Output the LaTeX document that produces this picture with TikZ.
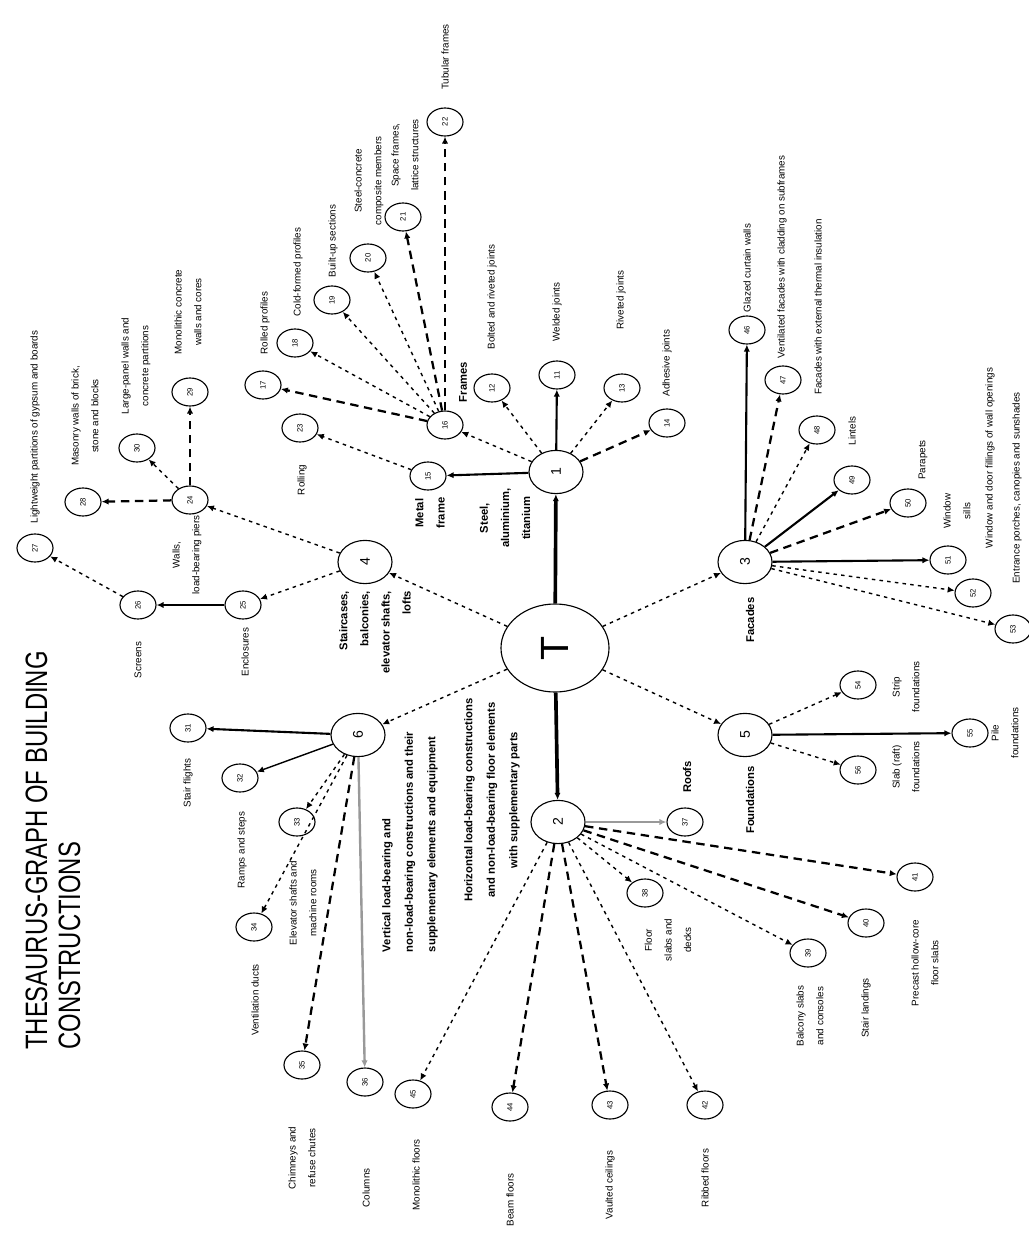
\documentclass[tikz,border=0pt]{standalone}
\usepackage{fontspec}
\setmainfont{Liberation Sans}
\usetikzlibrary{shapes.geometric,arrows.meta}
\newcommand\rotnum[1]{\rotatebox{90}{#1}}
\begin{document}
\begin{tikzpicture}[x=0.025cm,y=-0.025cm,
  circ/.style={draw,line width=0.8pt,ellipse,inner sep=0pt,minimum width=0.9cm,minimum height=0.7cm,font=\fontsize{5.5}{6}\selectfont},
  hubc/.style={circ,minimum width=1.35cm,minimum height=1.08cm,font=\fontsize{10}{10}\selectfont},
  lab/.style={rotate=90,inner sep=0.5pt,align=center,font=\fontsize{7}{14}\selectfont},
  blab/.style={rotate=90,inner sep=0.5pt,align=center,font=\bfseries\fontsize{8}{15}\selectfont},
  tip/.style={-{Latex[length=5pt,width=4.5pt]}},
  heavy/.style={tip,line width=2.6pt},
  solidc/.style={tip,line width=1.5pt},
  greyc/.style={tip,line width=1.7pt,black!40},
  dashc/.style={tip,line width=1.6pt,dash pattern=on 6pt off 4pt},
  dotc/.style={tip,line width=1pt,dash pattern=on 2.5pt off 3pt},
]
\fill[white] (0,0) rectangle (1029,1240);
\path[use as bounding box] (0,0) rectangle (1029,1240);

% title
\node[rotate=90,anchor=base west,inner sep=0pt,font=\fontsize{22}{22}\selectfont] (title1) at (47,1050) {\scalebox{0.77}[1]{THESAURUS-GRAPH OF BUILDING}};
\node[rotate=90,anchor=base west,inner sep=0pt,font=\fontsize{22}{22}\selectfont] (title2) at (80,1050) {\scalebox{0.77}[1]{CONSTRUCTIONS}};

% central node and hubs
\node[circ,minimum width=2.7cm,minimum height=2.2cm,font=\fontsize{28}{28}\selectfont] (T) at (555,648) {\rotnum{T}};
\node[hubc] (H1) at (556,472) {\rotnum{1}};
\node[hubc] (H2) at (558,822) {\rotnum{2}};
\node[hubc] (H3) at (745,562) {\rotnum{3}};
\node[hubc] (H5) at (365,562) {\rotnum{4}};
\node[hubc] (H4) at (745,735) {\rotnum{5}};
\node[hubc] (H6) at (358,735) {\rotnum{6}};

% upper group
\node[circ] (W)  at (557,375) {\rotnum{11}};
\node[circ] (Bq) at (492,388) {\rotnum{12}};
\node[circ] (R)  at (622,388) {\rotnum{13}};
\node[circ] (G)  at (667,423) {\rotnum{14}};
\node[circ] (NB) at (428,476) {\rotnum{15}};
\node[circ] (NA) at (445,425) {\rotnum{16}};
\node[circ] (a1) at (263,385) {\rotnum{17}};
\node[circ] (a2) at (295,343) {\rotnum{18}};
\node[circ] (a3) at (332,300) {\rotnum{19}};
\node[circ] (a4) at (368,258) {\rotnum{20}};
\node[circ] (a5) at (403,217) {\rotnum{21}};
\node[circ] (a6) at (445,122) {\rotnum{22}};
\node[circ] (Ro) at (300,428) {\rotnum{23}};

% left group
\node[circ] (L)  at (190,500) {\rotnum{24}};
\node[circ] (F)  at (243,605) {\rotnum{25}};
\node[circ] (P)  at (138,605) {\rotnum{26}};
\node[circ] (Z)  at (35,548)  {\rotnum{27}};
\node[circ] (L1) at (83,502)  {\rotnum{28}};
\node[circ] (M)  at (190,392) {\rotnum{29}};
\node[circ] (K)  at (137,448) {\rotnum{30}};

% lower-left group
\node[circ] (S0) at (188,728)  {\rotnum{31}};
\node[circ] (S1) at (240,778)  {\rotnum{32}};
\node[circ] (S2) at (297,822)  {\rotnum{33}};
\node[circ] (S3) at (254,927)  {\rotnum{34}};
\node[circ] (S4) at (302,1065) {\rotnum{35}};
\node[circ] (S5) at (365,1082) {\rotnum{36}};

% lower group
\node[circ] (Rf) at (685,822)  {\rotnum{37}};
\node[circ] (r1) at (645,893)  {\rotnum{38}};
\node[circ] (r2) at (808,953)  {\rotnum{39}};
\node[circ] (r3) at (866,923)  {\rotnum{40}};
\node[circ] (r4) at (915,877)  {\rotnum{41}};
\node[circ] (b1) at (705,1105) {\rotnum{42}};
\node[circ] (b2) at (610,1105) {\rotnum{43}};
\node[circ] (b3) at (510,1107) {\rotnum{44}};
\node[circ] (b4) at (413,1094) {\rotnum{45}};

% right group
\node[circ] (c1) at (747,330)  {\rotnum{46}};
\node[circ] (c2) at (783,380)  {\rotnum{47}};
\node[circ] (c3) at (817,430)  {\rotnum{48}};
\node[circ] (c4) at (852,480)  {\rotnum{49}};
\node[circ] (c5) at (908,503)  {\rotnum{50}};
\node[circ] (c6) at (948,560)  {\rotnum{51}};
\node[circ] (c7) at (973,593)  {\rotnum{52}};
\node[circ] (c8) at (1013,629) {\rotnum{53}};
\node[circ] (f1) at (858,685)  {\rotnum{54}};
\node[circ] (f2) at (970,733)  {\rotnum{55}};
\node[circ] (f3) at (858,770)  {\rotnum{56}};

% connectors from the centre
\draw[heavy] (T) -- (H1);
\draw[heavy] (T) -- (H2);
\draw[dotc] (T) -- (H3);
\draw[dotc] (T) -- (H4);
\draw[dotc] (T) -- (H5);
\draw[dotc] (T) -- (H6);

% upper group connectors
\draw[solidc] (H1) -- (W);
\draw[dotc] (H1) -- (Bq);
\draw[dotc] (H1) -- (R);
\draw[dashc] (H1) -- (G);
\draw[solidc] (H1) -- (NB);
\draw[dotc] (H1) -- (NA);
\draw[dashc] (NA) -- (a1);
\draw[dotc] (NA) -- (a2);
\draw[dotc] (NA) -- (a3);
\draw[dotc] (NA) -- (a4);
\draw[dashc] (NA) -- (a5);
\draw[dashc] (NA) -- (a6);
\draw[dotc] (NB) -- (Ro);

% left group connectors
\draw[dotc] (H5) -- (L);
\draw[dotc] (H5) -- (F);
\draw[solidc] (F) -- (P);
\draw[dotc] (P) -- (Z);
\draw[dashc] (L) -- (L1);
\draw[dashc] (L) -- (M);
\draw[dotc] (L) -- (K);

% lower-left group connectors
\draw[solidc] (H6) -- (S0);
\draw[solidc,line width=1pt] (H6) -- (S1);
\draw[dotc] (H6) -- (S2);
\draw[dotc] (H6) -- (S3);
\draw[dashc] (H6) -- (S4);
\draw[greyc] (H6) -- (S5);

% lower group connectors
\draw[greyc] (H2) -- (Rf);
\draw[dotc] (H2) -- (r1);
\draw[dotc] (H2) -- (r2);
\draw[dashc] (H2) -- (r3);
\draw[dashc] (H2) -- (r4);
\draw[dotc] (H2) -- (b1);
\draw[dashc] (H2) -- (b2);
\draw[dashc] (H2) -- (b3);
\draw[dotc] (H2) -- (b4);

% right group connectors
\draw[solidc] (H3) -- (c1);
\draw[dashc] (H3) -- (c2);
\draw[dotc] (H3) -- (c3);
\draw[solidc] (H3) -- (c4);
\draw[dashc] (H3) -- (c5);
\draw[solidc] (H3) -- (c6);
\draw[dotc] (H3) -- (c7);
\draw[dotc] (H3) -- (c8);
\draw[dotc] (H4) -- (f1);
\draw[solidc] (H4) -- (f2);
\draw[dotc] (H4) -- (f3);

% bold labels
\node[blab] (tH1) at (505,518) {Steel,\\aluminium,\\titanium};
\node[blab] (tNB) at (430,513) {Metal\\frame};
\node[blab] (tNA) at (463,382) {Frames};
\node[blab,anchor=east,align=right] (tH5) at (375,590) {Staircases,\\balconies,\\elevator shafts,\\lofts};
\node[blab,anchor=west,align=left,font=\bfseries\fontsize{8}{16}\selectfont] (tH6) at (410,953) {Vertical load-bearing and\\non-load-bearing constructions and their\\supplementary elements and equipment};
\node[blab,font=\bfseries\fontsize{8}{16}\selectfont] (tH2) at (492,800) {Horizontal load-bearing constructions\\and non-load-bearing floor elements\\with supplementary parts};
\node[blab] (tH3) at (750,620) {Facades};
\node[blab] (tH4) at (750,800) {Foundations};
\node[blab] (tRf) at (687,777) {Roofs};

% labels, upper group
\node[lab] (ta1) at (265,323) {Rolled profiles};
\node[lab] (ta2) at (298,272) {Cold-formed profiles};
\node[lab] (ta3) at (333,241) {Built-up sections};
\node[lab] (ta4) at (369,181) {Steel-concrete\\composite members};
\node[lab] (ta5) at (405,155) {Space frames,\\lattice structures};
\node[lab] (ta6) at (445,57) {Tubular frames};
\node[lab] (tRo) at (302,480) {Rolling};
\node[lab] (tW) at (557,312) {Welded joints};
\node[lab] (tBq) at (492,297) {Bolted and riveted joints};
\node[lab] (tR) at (621,300) {Riveted joints};
\node[lab] (tG) at (667,363) {Adhesive joints};

% labels, left group
\node[lab] (tL) at (187,555) {Walls,\\load-bearing piers};
\node[lab] (tL1) at (85,416) {Masonry walls of brick,\\stone and blocks};
\node[lab] (tK) at (136,366) {Large-panel walls and\\concrete partitions};
\node[lab] (tM) at (188,312) {Monolithic concrete\\walls and cores};
\node[lab] (tZ) at (35,427) {Lightweight partitions of gypsum and boards};
\node[lab] (tP) at (138,660) {Screens};
\node[lab] (tF) at (245,652) {Enclosures};

% labels, lower-left group
\node[lab] (tS0) at (188,783) {Stair flights};
\node[lab] (tS1) at (242,850) {Ramps and steps};
\node[lab] (tS2) at (303,903) {Elevator shafts and\\machine rooms};
\node[lab] (tS3) at (255,1000) {Ventilation ducts};
\node[lab] (tS4) at (302,1158) {Chimneys and\\refuse chutes};
\node[lab] (tS5) at (366,1188) {Columns};

% labels, lower group
\node[lab] (tr1) at (668,940) {Floor\\slabs and\\decks};
\node[lab] (tr2) at (810,1016) {Balcony slabs\\and consoles};
\node[lab] (tr3) at (866,1008) {Stair landings};
\node[lab] (tr4) at (925,963) {Precast hollow-core\\floor slabs};
\node[lab] (tb1) at (705,1178) {Ribbed floors};
\node[lab] (tb2) at (610,1185) {Vaulted ceilings};
\node[lab] (tb3) at (510,1200) {Beam floors};
\node[lab] (tb4) at (416,1175) {Monolithic floors};

% labels, right group
\node[lab] (tc1) at (747,268) {Glazed curtain walls};
\node[lab] (tc2) at (782,257) {Ventilated facades with cladding on subframes};
\node[lab] (tc3) at (818,307) {Facades with external thermal insulation};
\node[lab] (tc4) at (852,431) {Lintels};
\node[lab] (tc5) at (923,460) {Parapets};
\node[lab] (tc6) at (957,511) {Window\\sills};
\node[lab] (tc7) at (990,458) {Window and door fillings of wall openings};
\node[lab] (tc8) at (1017,488) {Entrance porches, canopies and sunshades};
\node[lab] (tf1) at (906,687) {Strip\\foundations};
\node[lab] (tf2) at (1005,733) {Pile\\foundations};
\node[lab] (tf3) at (906,767) {Slab (raft)\\foundations};
\end{tikzpicture}
\end{document}
